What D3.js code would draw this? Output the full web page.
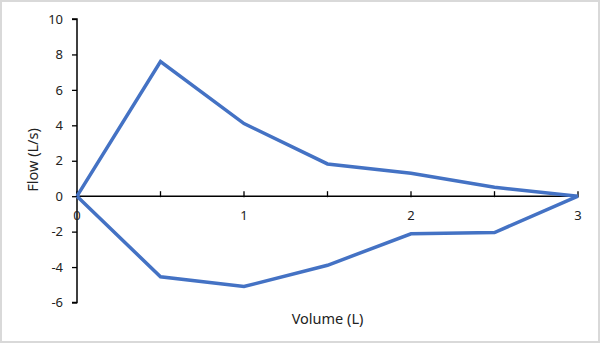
<!DOCTYPE html>
<html>
<head>
<meta charset="utf-8">
<script src="https://cdn.jsdelivr.net/npm/d3@7"></script>
<style>
html,body{margin:0;padding:0;background:#fff;}
svg{display:block;}
text{font-family:"Noto Sans","Open Sans",sans-serif;fill:#222;}
</style>
</head>
<body>
<svg id="chart" width="601" height="347"></svg>
<script>
const volume = [0, 0.5, 1, 1.5, 2, 2.5, 3];
const expiratoryFlow = [0, 7.6, 4.1, 1.82, 1.3, 0.5, 0];
const inspiratoryFlow = [0, -4.55, -5.1, -3.9, -2.12, -2.05, 0];
const yTicks = [-6, -4, -2, 0, 2, 4, 6, 8, 10];
const xTicks = [0, 0.5, 1, 1.5, 2, 2.5, 3];
const xLabels = [0, 1, 2, 3];

const svg = d3.select("#chart");
const W = 601, H = 347;

svg.append("rect").attr("x", 1).attr("y", 1).attr("width", 598).attr("height", 341)
  .attr("fill", "#fff").attr("stroke", "#d9d9d9").attr("stroke-width", 2);

const x = d3.scaleLinear().domain([0, 3]).range([77, 578]);
const y = d3.scaleLinear().domain([-6, 10]).range([302.5, 19]);

// y axis
const yAxis = d3.axisLeft(y).tickValues(yTicks).tickSize(5).tickPadding(9).tickFormat(d => String(d));
const gy = svg.append("g").attr("transform", `translate(${x(0)},0)`).call(yAxis);
gy.select(".domain").attr("stroke", "#000").attr("stroke-width", 1.5).attr("d", `M-5,${y(10)}H0V${y(-6)}H-5`);
gy.selectAll(".tick line").attr("stroke", "#000").attr("stroke-width", 1.3);
gy.selectAll(".tick text").attr("font-size", 13).style("fill", "#222");

// x axis at y=0
const gx = svg.append("g").attr("transform", `translate(0,${y(0)})`);
gx.append("line").attr("x1", x(0)).attr("x2", x(3)).attr("y1", 0).attr("y2", 0)
  .attr("stroke", "#000").attr("stroke-width", 1.5);
gx.selectAll("line.tk").data(xTicks).join("line").attr("class", "tk")
  .attr("x1", d => x(d)).attr("x2", d => x(d)).attr("y1", -5).attr("y2", 1)
  .attr("stroke", "#000").attr("stroke-width", 1.3);
gx.selectAll("text.lbl").data(xLabels).join("text").attr("class", "lbl")
  .attr("x", d => x(d)).attr("y", 24).attr("text-anchor", "middle")
  .attr("font-size", 13).text(d => String(d));

// lines
const line = d3.line().x((d, i) => x(volume[i])).y(d => y(d));
[expiratoryFlow, inspiratoryFlow].forEach(s => {
  svg.append("path").datum(s).attr("d", line).attr("fill", "none")
    .attr("stroke", "#4472C4").attr("stroke-width", 3.5).attr("stroke-linejoin", "miter");
});

// axis titles
svg.append("text").attr("x", (x(0) + x(3)) / 2).attr("y", 324).attr("text-anchor", "middle")
  .attr("font-size", 14.5).text("Volume (L)");
svg.append("text").attr("transform", `translate(38,160) rotate(-90)`).attr("text-anchor", "middle")
  .attr("font-size", 14.5).text("Flow (L/s)");
</script>
</body>
</html>
